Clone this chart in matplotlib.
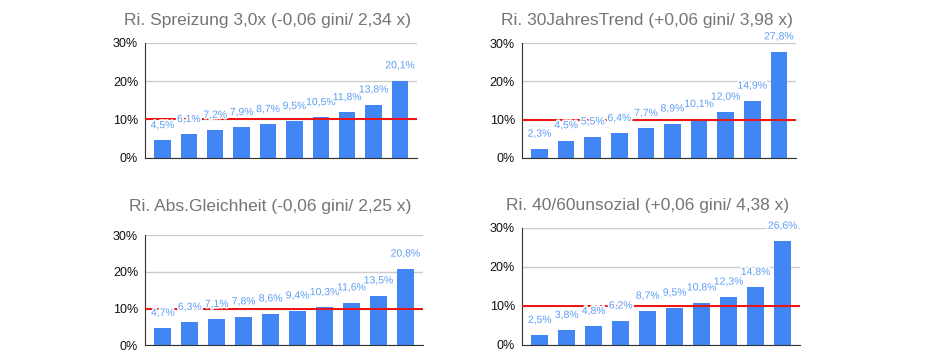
import matplotlib.pyplot as plt
import matplotlib.patheffects as pe

plt.rcParams['font.family'] = ['Liberation Sans', 'DejaVu Sans']

# titles of the four panels
titles = [
    "Ri. Spreizung 3,0x (-0,06 gini/ 2,34 x)",
    "Ri. 30JahresTrend (+0,06 gini/ 3,98 x)",
    "Ri. Abs.Gleichheit (-0,06 gini/ 2,25 x)",
    "Ri. 40/60unsozial (+0,06 gini/ 4,38 x)",
]

# share per decile in percent
spreizung = [4.5, 6.1, 7.2, 7.9, 8.7, 9.5, 10.5, 11.8, 13.8, 20.1]
jahrestrend = [2.3, 4.5, 5.5, 6.4, 7.7, 8.9, 10.1, 12.0, 14.9, 27.8]
gleichheit = [4.7, 6.3, 7.1, 7.8, 8.6, 9.4, 10.3, 11.6, 13.5, 20.8]
unsozial = [2.5, 3.8, 4.8, 6.2, 8.7, 9.5, 10.8, 12.3, 14.8, 26.6]

reference_line = 10
y_ticks = [0, 10, 20, 30]

series = [spreizung, jahrestrend, gleichheit, unsozial]

# axes rectangles (left, bottom, width, height) and title positions in figure coords
rects = [
    (0.1528, 0.5644, 0.2866, 0.3177),
    (0.5500, 0.5644, 0.2887, 0.3160),
    (0.1528, 0.0461, 0.2926, 0.3047),
    (0.5500, 0.0470, 0.2929, 0.3240),
]
title_pos = [(268 / 949, 1 - 20.5 / 362), (647 / 949, 1 - 20 / 362),
             (270 / 949, 1 - 207 / 362), (648 / 949, 1 - 205 / 362)]

bar_color = '#4285F4'
label_color = '#5e9df5'

fig = plt.figure(figsize=(9.49, 3.62), dpi=100)

for vals, title, rect, tpos in zip(series, titles, rects, title_pos):
    ax = fig.add_axes(rect)
    x = list(range(len(vals)))
    ax.bar(x, vals, width=0.62, color=bar_color, zorder=2)
    ax.axhline(reference_line, color='#f01010', linewidth=1.4, zorder=3)
    ax.set_xlim(-0.66, 9.64)
    ax.set_ylim(0, 30)
    ax.set_yticks(y_ticks)
    ax.set_yticklabels([f"{t}%" for t in y_ticks], fontsize=9, color='#111111')
    ax.set_xticks([])
    ax.yaxis.grid(True, color='#cccccc', linewidth=1, zorder=0)
    ax.set_axisbelow(True)
    ax.tick_params(axis='y', length=0, pad=5)
    for s in ['top', 'right']:
        ax.spines[s].set_visible(False)
    ax.spines['left'].set_color('#333333')
    ax.spines['bottom'].set_color('#333333')
    for xi, v in zip(x, vals):
        ax.annotate(f"{v:.1f}%".replace('.', ','), (xi, v), xytext=(0, 11),
                    textcoords='offset points', ha='center', va='center',
                    fontsize=7.5, color=label_color, zorder=4, annotation_clip=False,
                    path_effects=[pe.withStroke(linewidth=2.5, foreground='white')])
    fig.text(tpos[0], tpos[1], title, ha='center', va='center', fontsize=12.5,
             color='#757575')

fig.savefig('out.png', dpi=100)
